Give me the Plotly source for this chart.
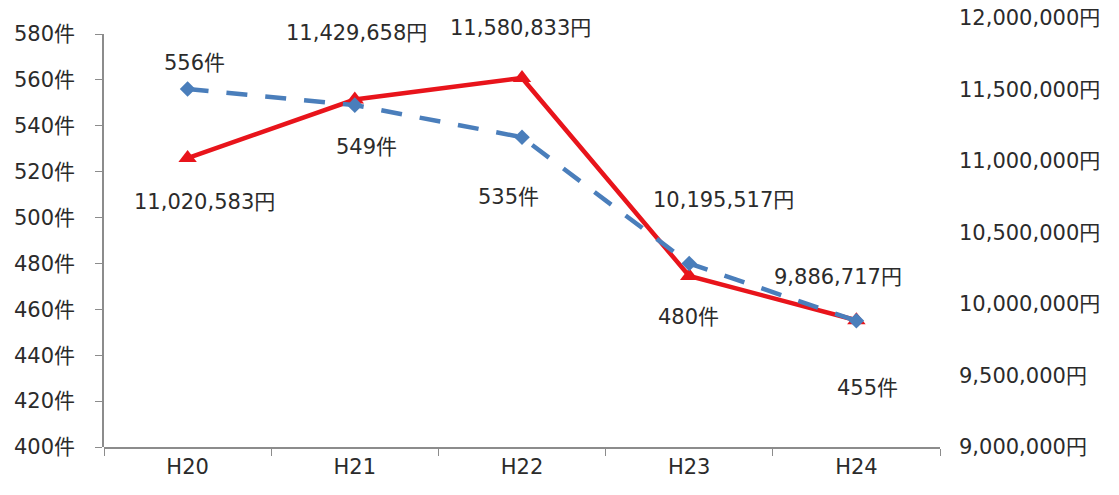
import plotly.graph_objects as go

# 年度別の件数と金額
years = ["H20", "H21", "H22", "H23", "H24"]
counts = [556, 549, 535, 480, 455]
amounts = [11020583, 11429658, 11580833, 10195517, 9886717]

count_ticks = list(range(400, 581, 20))
amount_ticks = list(range(9000000, 12000001, 500000))

# ラベルの表示位置（点からのずらし量, px）
count_label_shift = [(7, 26), (12, -42), (-14, -60), (-1, -54), (11, -67)]
amount_label_shift = [(17, -44), (2, 67), (-2, 50), (34, 76), (-18, 43)]

BLUE = "#4a7ebb"
RED = "#e8141b"
TEXT = "#2b2b2b"
AXIS = "#8c8c8c"
FONT = "DejaVu Sans, Noto Sans CJK JP"
FS = 21

fig = go.Figure()

# 金額（右軸）: 主サブプロット
fig.add_trace(go.Scatter(
    x=years, y=amounts, mode="lines+markers", name="金額",
    line=dict(color=RED, width=4.5),
    marker=dict(symbol="triangle-up", size=16, color=RED),
    xaxis="x", yaxis="y",
))
# 件数（左軸）: 上に重ねて描く
fig.add_trace(go.Scatter(
    x=years, y=counts, mode="lines+markers", name="件数",
    line=dict(color=BLUE, width=4.5, dash="21px,18px"),
    marker=dict(symbol="diamond", size=12, color=BLUE),
    xaxis="x", yaxis="y2",
))

annotations = []
for yr, v, (dx, dy) in zip(years, counts, count_label_shift):
    annotations.append(dict(
        x=yr, y=v, xref="x", yref="y2", text=f"{v}件", showarrow=False,
        xshift=dx, yshift=dy, font=dict(size=FS, color=TEXT, family=FONT),
    ))
for yr, v, (dx, dy) in zip(years, amounts, amount_label_shift):
    annotations.append(dict(
        x=yr, y=v, xref="x", yref="y", text=f"{v:,}円", showarrow=False,
        xshift=dx, yshift=dy, font=dict(size=FS, color=TEXT, family=FONT),
    ))

fig.update_layout(
    width=1119, height=495,
    margin=dict(l=104, r=179, t=18, b=48, autoexpand=False),
    paper_bgcolor="white", plot_bgcolor="rgba(0,0,0,0)",
    showlegend=False,
    font=dict(family=FONT, size=FS, color=TEXT),
    xaxis=dict(
        type="category", range=[-0.5, 4.5], anchor="y", automargin=False,
        showline=True, linecolor=AXIS, linewidth=1.5,
        ticks="outside", tickson="boundaries", ticklen=7, tickcolor=AXIS,
        showgrid=False, zeroline=False,
        tickfont=dict(size=FS, color=TEXT, family=FONT),
    ),
    yaxis=dict(
        side="right", anchor="x", domain=[0, 1], automargin=False,
        range=[9000000, 12000000], tickvals=amount_ticks,
        ticktext=[f"{t:,}円" for t in amount_ticks],
        showline=False, ticks="", ticklabelstandoff=18,
        showgrid=False, zeroline=False,
        tickfont=dict(size=FS, color=TEXT, family=FONT),
    ),
    yaxis2=dict(
        side="left", anchor="x", domain=[0, 413 / 429], automargin=False,
        range=[400, 580], tickvals=count_ticks,
        ticktext=[f"{t}件" for t in count_ticks],
        showline=True, linecolor=AXIS, linewidth=1.5,
        ticks="outside", ticklen=7, tickcolor=AXIS,
        ticklabelstandoff=16,
        showgrid=False, zeroline=False,
        tickfont=dict(size=FS, color=TEXT, family=FONT),
    ),
    annotations=annotations,
)

fig.write_html("out.html")
